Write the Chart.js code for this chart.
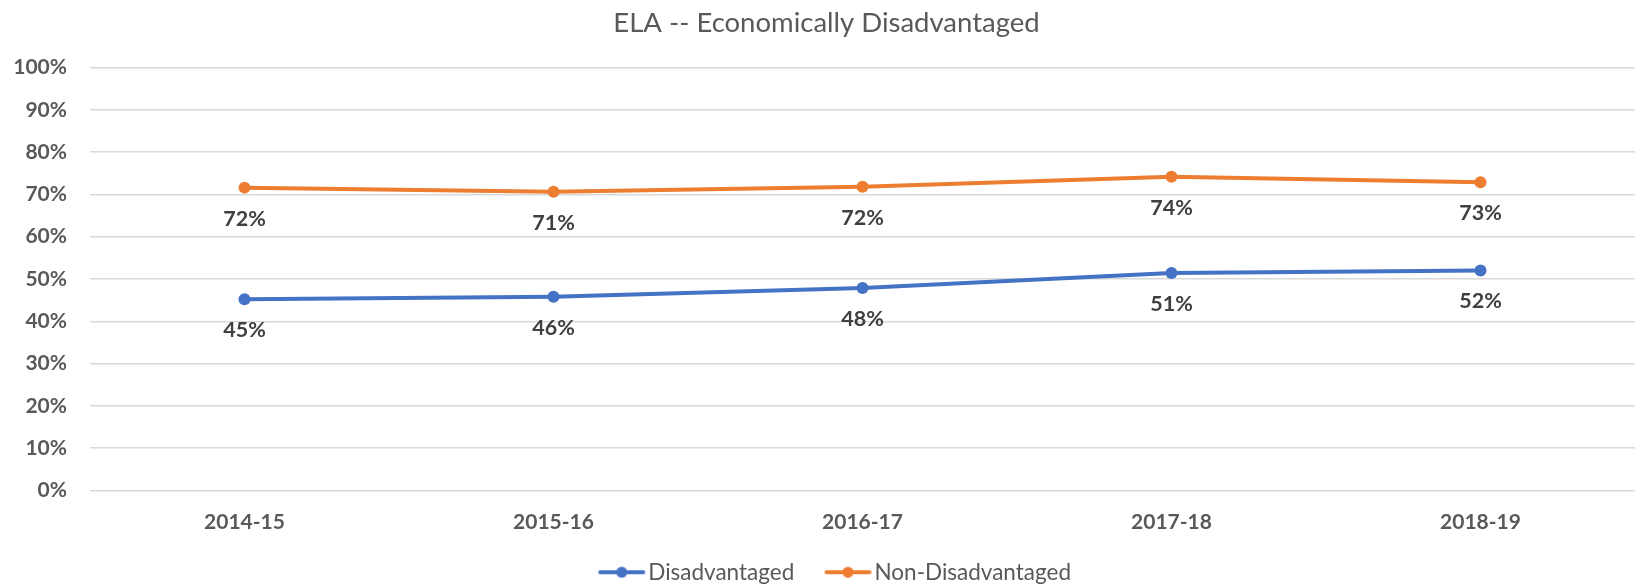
<!DOCTYPE html>
<html>
<head>
<meta charset="utf-8">
<script src="https://cdn.jsdelivr.net/npm/chart.js@4/dist/chart.umd.min.js"></script>
<style>
    body { margin: 0; background: #fff; overflow: hidden; }
    #wrap { width: 1635px; height: 584px; }
</style>
</head>
<body>
<div id="wrap"><canvas id="trackingCanvas"></canvas></div>
<script>
const years = ['2014-15', '2015-16', '2016-17', '2017-18', '2018-19'];
const disadvantaged = [45.2, 45.8, 47.9, 51.4, 52.0];
const nonDisadvantaged = [71.6, 70.6, 71.8, 74.2, 72.9];
const yTicks = [0, 10, 20, 30, 40, 50, 60, 70, 80, 90, 100];

const canvas = document.getElementById('trackingCanvas');
const fontName = 'Lato';

// line + dot sample for the legend, sits right before the label text
const legendSample = (color) => {
    const c = document.createElement('canvas');
    c.width = 80;
    c.height = 14;
    const ctx = c.getContext('2d');
    ctx.strokeStyle = color;
    ctx.lineWidth = 4;
    ctx.lineCap = 'round';
    ctx.beginPath();
    ctx.moveTo(30.75, 7);
    ctx.lineTo(73.75, 7);
    ctx.stroke();
    ctx.fillStyle = color;
    ctx.beginPath();
    ctx.arc(52.25, 7, 5.5, 0, Math.PI * 2);
    ctx.fill();
    return c;
}

const valueLabels = {
    id: 'valueLabels',
    afterDatasetsDraw(chart) {
        const ctx = chart.ctx;
        ctx.save();
        ctx.font = 'bold 21.5px ' + fontName;
        ctx.fillStyle = '#404040';
        ctx.textAlign = 'center';
        ctx.textBaseline = 'middle';
        chart.data.datasets.forEach((ds, i) => {
            chart.getDatasetMeta(i).data.forEach((pt, j) => {
                ctx.fillText(Math.round(ds.data[j]) + '%', pt.x, pt.y + 31);
            });
        });
        ctx.restore();
    }
}

const data = {
    labels: years,
    datasets: [
        {
            label: 'Disadvantaged',
            borderColor: '#4472C4',
            backgroundColor: '#4472C4',
            data: disadvantaged
        },
        {
            label: 'Non-Disadvantaged',
            borderColor: '#ED7D31',
            backgroundColor: '#ED7D31',
            data: nonDisadvantaged
        }
    ]
};

const config = {
    type: 'line',
    data,
    plugins: [valueLabels],
    options: {
        responsive: true,
        maintainAspectRatio: false,
        animation: false,
        layout: { autoPadding: false, padding: { left: 14, right: -4, top: 0, bottom: -9.5 } },
        elements: {
            line: { borderWidth: 4, tension: 0 },
            point: { radius: 6, hoverRadius: 6, borderWidth: 0 }
        },
        scales: {
            x: {
                offset: true,
                grid: { display: false },
                border: { display: false },
                afterFit: (axis) => { axis.height = 56.5; },
                ticks: {
                    padding: 11,
                    color: '#595959',
                    font: { family: fontName, size: 21, weight: 'bold' }
                }
            },
            y: {
                min: 0,
                max: 100,
                afterBuildTicks: (axis) => {
                    axis.ticks = yTicks.map((v) => ({ value: v }));
                },
                afterFit: (axis) => { axis.width = 76; },
                grid: { color: '#d9d9d9', lineWidth: 1.5, drawTicks: false },
                border: { display: false },
                ticks: {
                    padding: 23,
                    color: '#595959',
                    font: { family: fontName, size: 21, weight: 'bold' },
                    callback: (v) => v + '%'
                }
            }
        },
        plugins: {
            title: {
                display: true,
                text: 'ELA -- Economically Disadvantaged',
                color: '#595959',
                font: { family: fontName, size: 27.5, weight: 'normal' },
                padding: { top: 6.5, bottom: 28 }
            },
            legend: {
                position: 'bottom',
                labels: {
                    usePointStyle: true,
                    pointStyleWidth: 55,
                    padding: 14,
                    color: '#595959',
                    font: { family: fontName, size: 22.5 },
                    generateLabels: (chart) => {
                        const items = Chart.defaults.plugins.legend.labels.generateLabels(chart);
                        return items.map((item, i) => {
                            item.pointStyle = legendSample(chart.data.datasets[i].borderColor);
                            return item;
                        });
                    }
                }
            },
            tooltip: { enabled: false }
        }
    }
}

const myChart = new Chart(canvas, config);
</script>
</body>
</html>
